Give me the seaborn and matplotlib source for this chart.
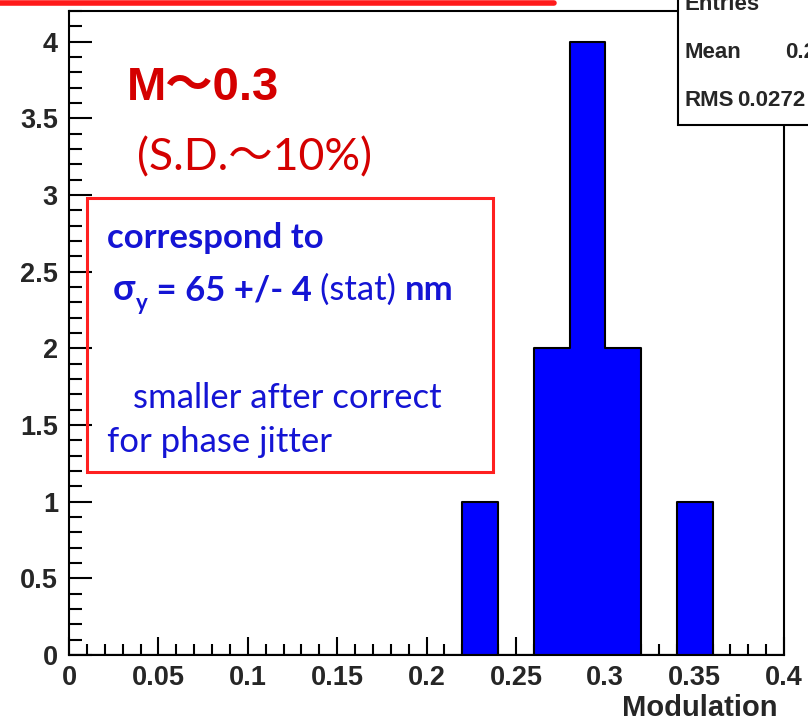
import matplotlib
matplotlib.use("Agg")
import matplotlib.pyplot as plt
import seaborn as sns
import pandas as pd
from matplotlib.ticker import MultipleLocator, FuncFormatter
from matplotlib.patches import Rectangle
from matplotlib.lines import Line2D

# histogram contents (bin centres and counts), bin width 0.02
bin_centers = [0.23, 0.27, 0.29, 0.31, 0.35]
counts = [1, 2, 4, 2, 1]
bin_width = 0.02
bin_range = (0.0, 0.4)

stat_names = ["Entries", "Mean", "RMS"]
stat_values = ["10", "0.29", "0.0272"]

W, H = 808, 721


def px(x, y):
    # pixel position (origin top-left) -> figure fraction
    return x / W, 1 - y / H


sns.set_style("white")
plt.rcParams["font.family"] = ["Liberation Sans", "Noto Sans CJK JP"]

df = pd.DataFrame({"Modulation": bin_centers, "count": counts})

fig = plt.figure(figsize=(W / 100, H / 100), dpi=100)
ax = fig.add_axes([69 / W, 1 - 655 / H, (784 - 69) / W, (655 - 11) / H])

sns.histplot(
    data=df,
    x="Modulation",
    weights="count",
    binwidth=bin_width,
    binrange=bin_range,
    element="step",
    fill=True,
    color="#0000ff",
    alpha=1,
    edgecolor="black",
    linewidth=1.5,
    ax=ax,
)

ax.set_xlim(0, 0.4)
ax.set_ylim(0, 4.2)
ax.set_ylabel("")

ax.xaxis.set_major_locator(MultipleLocator(0.05))
ax.xaxis.set_minor_locator(MultipleLocator(0.01))
ax.yaxis.set_major_locator(MultipleLocator(0.5))
ax.yaxis.set_minor_locator(MultipleLocator(0.1))
fmt = FuncFormatter(lambda v, p: f"{v:g}")
ax.xaxis.set_major_formatter(fmt)
ax.yaxis.set_major_formatter(fmt)

ax.tick_params(axis="both", which="both", direction="in", color="black",
               labelsize=19.5, width=1.5, bottom=True, left=True,
               top=False, right=False)
ax.tick_params(axis="y", which="major", length=16.5, pad=8)
ax.tick_params(axis="y", which="minor", length=9)
ax.tick_params(axis="x", which="major", length=13, pad=7)
ax.tick_params(axis="x", which="minor", length=8)
for lab in ax.get_xticklabels() + ax.get_yticklabels():
    lab.set_fontweight("bold")

for s in ax.spines.values():
    s.set_color("black")
    s.set_linewidth(1.5)

ax.set_xlabel("Modulation", fontsize=21, fontweight="bold", loc="right")
ax.xaxis.set_label_coords((778 - 69) / 715, (655 - 708) / 644)
ax.xaxis.label.set_va("center")

# red line at the very top (bottom edge of a box above the picture)
fig.add_artist(Line2D([0, 554 / W], [1 - 3 / H, 1 - 3 / H], color="#ff1a1a",
                      linewidth=4, transform=fig.transFigure))

# stats box, cut off at the top right
fig.add_artist(Rectangle(px(678, 125), (W - 678 + 20) / W, 160 / H,
                         transform=fig.transFigure, facecolor="white",
                         edgecolor="black", linewidth=1.5))
stat_y = [5, 52, 101]
stat_vx = [900, 785, 737]
for name, val, yy, vx in zip(stat_names, stat_values, stat_y, stat_vx):
    fig.text(*px(685, yy), name, fontsize=16, fontweight="bold", va="center")
    fig.text(*px(vx, yy), val, fontsize=16, fontweight="bold", va="center")

red = "#d40000"
blue = "#1414d4"

fig.text(*px(127, 88), "M～0.3", color=red, fontsize=34, fontweight="bold",
         va="center", family=["Liberation Sans", "Noto Sans CJK JP"])
fig.text(*px(137, 158), "(S.D.～10%)", color=red, fontsize=32,
         va="center", family=["Lato", "Noto Sans CJK JP"])

# red box with the blue notes
fig.add_artist(Rectangle(px(87, 472), (493 - 87) / W, (472 - 198) / H,
                         transform=fig.transFigure, facecolor="none",
                         edgecolor="#ff2020", linewidth=2.2))

box_font = ["Lato", "Noto Sans"]
fs = 25
fig.text(*px(107, 238), "correspond to", color=blue, fontsize=fs,
         fontweight="bold", va="center", family=box_font)

t = fig.text(*px(113, 306), "σ", color=blue, fontsize=fs + 1, fontweight="bold",
             va="bottom", family=box_font)
t = ax.annotate("y", xy=(1, 0), xycoords=t, xytext=(0.5, -6),
                textcoords="offset points", color=blue, fontsize=16,
                fontweight="bold", va="bottom", family=box_font,
                annotation_clip=False)
t = ax.annotate(" = 65 +/- 4 ", xy=(1, 0), xycoords=t, xytext=(0, 6),
                textcoords="offset points", color=blue, fontsize=fs,
                fontweight="bold", va="bottom", family=box_font,
                annotation_clip=False)
t = ax.annotate("(stat) ", xy=(1, 0), xycoords=t, color=blue, fontsize=fs,
                va="bottom", family=box_font, annotation_clip=False)
ax.annotate("nm", xy=(1, 0), xycoords=t, color=blue, fontsize=fs,
            fontweight="bold", va="bottom", family=box_font,
            annotation_clip=False)

fig.text(*px(133, 398), "smaller after correct", color=blue, fontsize=fs,
         va="center", family=box_font)
fig.text(*px(107, 442), "for phase jitter", color=blue, fontsize=fs,
         va="center", family=box_font)

plt.savefig("out.png", dpi=100)
